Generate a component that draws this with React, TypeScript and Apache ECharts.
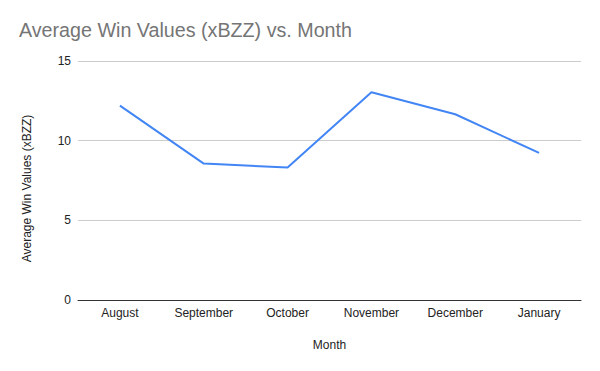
import React, { useEffect, useRef } from "react";
import * as echarts from "echarts";

const months = ["August", "September", "October", "November", "December", "January"];
const avgWin = [12.2, 8.56, 8.31, 13.04, 11.66, 9.23];
const yTicks = { min: 0, max: 15, interval: 5 };

const FONT = "'Liberation Sans', Arial, sans-serif";

export default function App() {
  const ref = useRef<HTMLDivElement>(null);
  useEffect(() => {
    if (!ref.current) return;
    const chart = echarts.init(ref.current, null, { renderer: "svg" });
    chart.setOption({
      animation: false,
      backgroundColor: "#ffffff",
      textStyle: { fontFamily: FONT },
      title: {
        text: "Average Win Values (xBZZ) vs. Month",
        left: 19,
        top: 20,
        padding: 0,
        textStyle: { fontSize: 19.7, fontWeight: "normal", color: "#757575", fontFamily: FONT },
      },
      grid: { left: 78, right: 19, top: 61, bottom: 71, containLabel: false },
      xAxis: {
        type: "category",
        data: months,
        boundaryGap: true,
        name: "Month",
        nameLocation: "middle",
        nameGap: 39,
        nameTextStyle: { fontSize: 12, color: "#222222", fontFamily: FONT },
        axisLine: { lineStyle: { color: "#333333", width: 1 } },
        axisTick: { show: false },
        axisLabel: { fontSize: 12, color: "#222222", margin: 7, fontFamily: FONT },
      },
      yAxis: {
        type: "value",
        min: yTicks.min,
        max: yTicks.max,
        interval: yTicks.interval,
        name: "Average Win Values (xBZZ)",
        nameLocation: "middle",
        nameGap: 45,
        nameTextStyle: { fontSize: 12, color: "#222222", fontFamily: FONT, padding: [0, 16, 0, 0] },
        axisLine: { show: false },
        axisTick: { show: false },
        axisLabel: { fontSize: 12, color: "#222222", margin: 7, fontFamily: FONT },
        splitLine: { lineStyle: { color: "#cccccc", width: 1 } },
      },
      series: [
        {
          type: "line",
          data: avgWin,
          symbol: "none",
          lineStyle: { color: "#4285F4", width: 2 },
          itemStyle: { color: "#4285F4" },
        },
      ],
    });
    return () => chart.dispose();
  }, []);
  return <div ref={ref} style={{ width: 600, height: 371, position: "absolute", left: 0, top: 0 }} />;
}
